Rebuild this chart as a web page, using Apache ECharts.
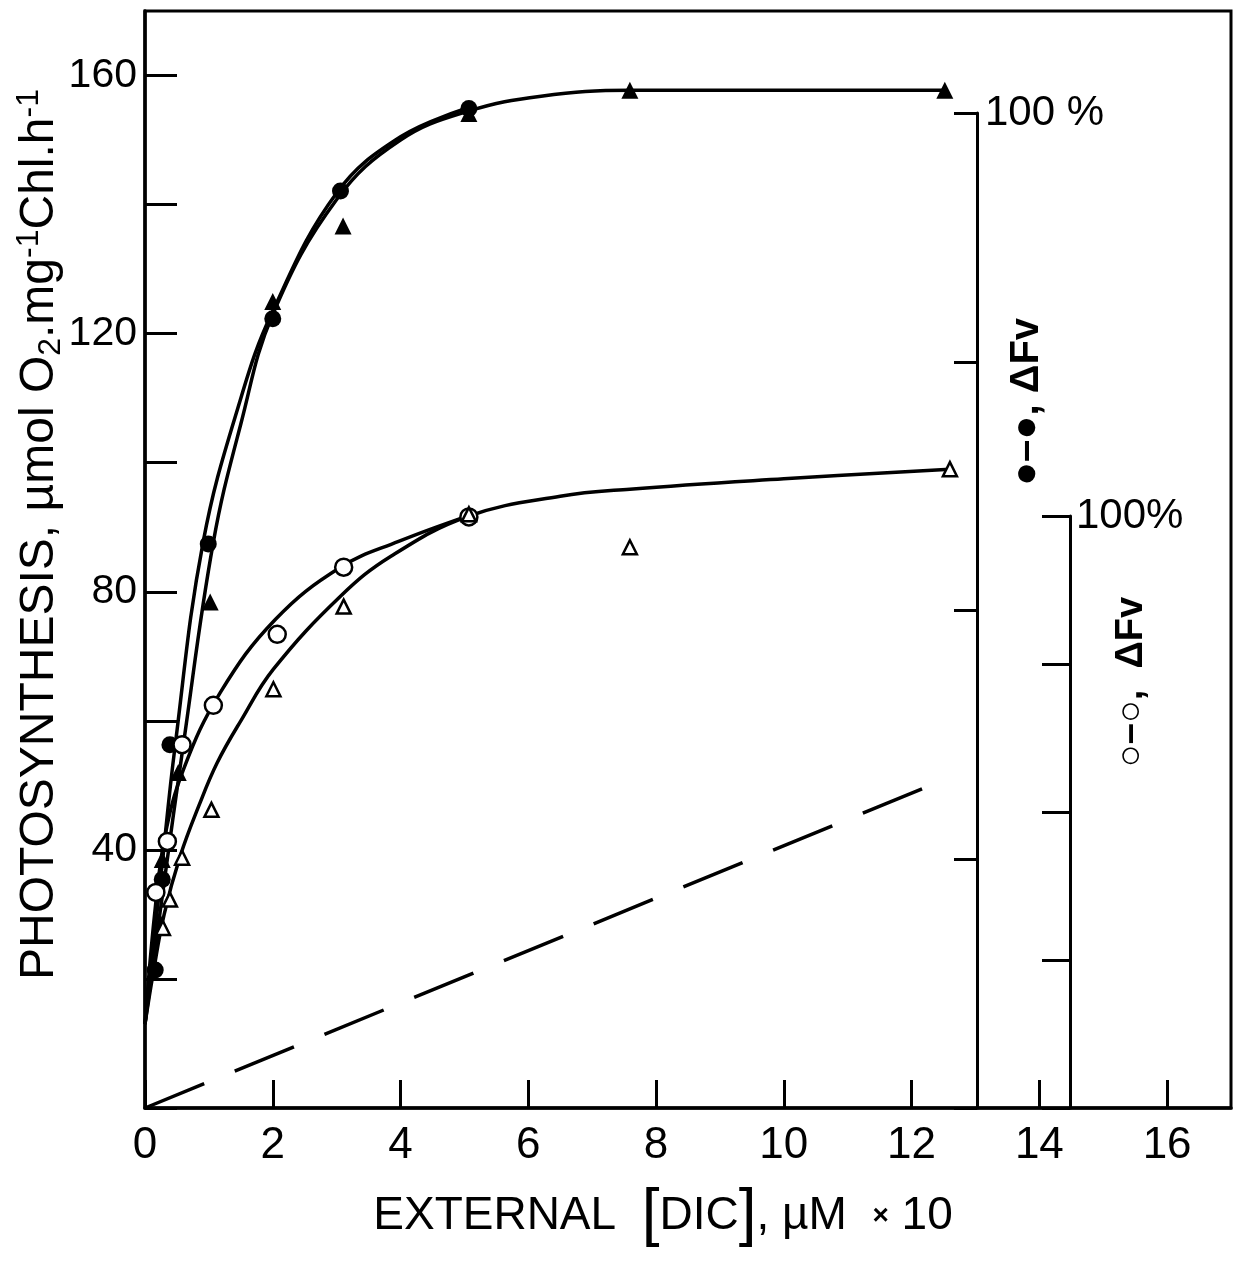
<!DOCTYPE html>
<html>
<head>
<meta charset="utf-8">
<script src="https://cdn.jsdelivr.net/npm/echarts@6/dist/echarts.min.js"></script>
<style>
html,body{margin:0;padding:0;background:#fff;}
#c{width:1241px;height:1262px;}
</style>
</head>
<body>
<div id="c"></div>
<script>
// ---- data ----
// measured points
const filledCircles = [[0.16,21.4],[0.27,35.4],[0.39,56.3],[0.99,87.4],[2.0,122.3],[3.06,142.1],[5.07,154.9]];
const filledTriangles = [[0.25,28.5],[0.27,38.5],[0.52,52.0],[1.02,78.4],[2.0,125.0],[3.1,136.7],[5.07,154.1],[7.59,157.7],[12.52,157.7]];
const openCircles = [[0.17,33.4],[0.35,41.3],[0.58,56.3],[1.07,62.4],[2.07,73.4],[3.11,83.8],[5.07,91.6]];
const openTriangles = [[0.28,27.9],[0.39,32.3],[0.58,38.8],[1.04,46.2],[2.01,64.9],[3.11,77.7],[5.07,92.0],[7.59,86.9],[12.6,99.0]];
// fitted curves
const curveFilledCircle = [[0,13],[0.25,36],[0.47,56],[0.91,87.7],[1.5,110],[2,123.5],[3,141.8],[4,150.5],[5.07,155]];
const curveFilledTriangle = [[0,13],[0.3,35],[0.6,56.3],[1.07,87.7],[1.5,106],[2,123],[3,140.8],[4,150],[5.07,154.5],[6.2,156.8],[7.59,157.7],[12.52,157.7]];
const curveOpenCircle = [[0,13],[0.15,30],[0.31,42],[0.6,52.4],[1.18,64.4],[2.04,75.7],[3.06,83.8],[3.97,87.8],[5.07,91.8]];
const curveOpenTriangle = [[0,13],[0.13,21],[0.3,30],[0.55,39],[0.85,47],[1.13,53.5],[1.5,60],[2.01,68],[3.06,79.3],[3.85,85.5],[5.06,91.7],[6.5,94.8],[7.59,95.9],[10,97.5],[12.6,99]];
const dashedLine = [[0,0],[12.3,50]];
// axis settings
const xMin = 0, xMax = 17, xStep = 2, xLabelMax = 16;
const yMin = 0, yMax = 170, yStep = 20;
const yLabels = [40, 80, 120, 160];
const rightAxisTicks = 25;

const FONT = "'Liberation Sans', Arial, sans-serif";
const chart = echarts.init(document.getElementById('c'), null, {renderer:'canvas'});

function curve(data){
  return {type:'line', data:data, showSymbol:false, smooth:0.4,
    lineStyle:{color:'#000', width:3.5}, z:2, silent:true, animation:false};
}
function markers(data, symbol, filled, size){
  return {type:'scatter', data:data, symbol:symbol, symbolSize:size,
    itemStyle: filled ? {color:'#000', opacity:1} : {color:'#fff', borderColor:'#000', borderWidth:2.5, opacity:1},
    z:5, animation:false};
}

const option = {
  backgroundColor:'#fff',
  animation:false,
  grid:[
    {left:145, right:10, top:11, bottom:154, show:true, borderColor:'#000', borderWidth:3, backgroundColor:'transparent'},
    {left:977, top:113, bottom:154, width:80},
    {left:1070, top:516, bottom:154, width:80}
  ],
  xAxis:[
    {gridIndex:0, type:'value', min:xMin, max:xMax, interval:xStep,
     name:'{a|EXTERNAL  }{b|[}{a|DIC}{b|]}{a|, µM  }{c|×}{a| 10}',
     nameLocation:'middle', nameGap:76,
     nameTextStyle:{padding:[0,50,0,0], rich:{
       a:{fontFamily:FONT, fontSize:46, color:'#000'},
       b:{fontFamily:FONT, fontSize:64, color:'#000'},
       c:{fontFamily:FONT, fontSize:28, fontWeight:'bold', color:'#000'}}},
     axisLine:{lineStyle:{color:'#000', width:3.5}},
     axisTick:{inside:true, length:28, lineStyle:{color:'#000', width:3}},
     axisLabel:{fontFamily:FONT, fontSize:44, color:'#000', margin:16, showMaxLabel:false,
       formatter:v => (v % xStep === 0 && v <= xLabelMax) ? String(v) : ''},
     splitLine:{show:false}},
    {gridIndex:1, type:'value', min:0, max:1, show:false},
    {gridIndex:2, type:'value', min:0, max:1, show:false}
  ],
  yAxis:[
    {gridIndex:0, type:'value', min:yMin, max:yMax, interval:yStep,
     name:'{a|PHOTOSYNTHESIS, µmol O}{s|2}{a|.mg}{p|-1}{a|Chl.h}{p|-1}',
     nameLocation:'middle', nameGap:78, nameRotate:90, nameMoveOverlap:false,
     nameTextStyle:{padding:[0,0,0,50], rich:{
       a:{fontFamily:FONT, fontSize:48, color:'#000', lineHeight:54, verticalAlign:'middle'},
       s:{fontFamily:FONT, fontSize:32, color:'#000', verticalAlign:'bottom', lineHeight:54, padding:[14,0,0,0]},
       p:{fontFamily:FONT, fontSize:32, color:'#000', verticalAlign:'top', lineHeight:54}}},
     axisLine:{lineStyle:{color:'#000', width:3.5}},
     axisTick:{inside:true, length:32, lineStyle:{color:'#000', width:3}},
     axisLabel:{fontFamily:FONT, fontSize:41, color:'#000', margin:8, showMaxLabel:false,
       formatter:v => yLabels.indexOf(v) >= 0 ? String(v) : ''},
     splitLine:{show:false}},
    {gridIndex:1, type:'value', min:0, max:100, interval:rightAxisTicks, position:'left',
     axisLine:{show:true, lineStyle:{color:'#000', width:3}},
     axisTick:{show:true, inside:false, length:23, lineStyle:{color:'#000', width:3}},
     axisLabel:{inside:true, margin:8, fontFamily:FONT, fontSize:42, color:'#000',
       formatter:v => v === 100 ? '100 %' : ''},
     splitLine:{show:false}},
    {gridIndex:2, type:'value', min:0, max:100, interval:rightAxisTicks, position:'left',
     axisLine:{show:true, lineStyle:{color:'#000', width:3}},
     axisTick:{show:true, inside:false, length:28, lineStyle:{color:'#000', width:3}},
     axisLabel:{inside:true, margin:6, fontFamily:FONT, fontSize:42, color:'#000',
       formatter:v => v === 100 ? '100%' : ''},
     splitLine:{show:false}}
  ],
  graphic:[
    {type:'text', x:1027, y:402, rotation:Math.PI/2,
     style:{text:'●–●, ΔFv', fill:'#000', font:'bold 40px ' + FONT, align:'center', verticalAlign:'middle'}},
    {type:'text', x:1132, y:682, rotation:Math.PI/2,
     style:{text:'○–○,  ΔFv', fill:'#000', font:'bold 38px ' + FONT, align:'center', verticalAlign:'middle'}}
  ],
  series:[
    {type:'line', data:dashedLine, showSymbol:false, lineStyle:{color:'#000', width:3.5, type:[64,33]}, z:1, animation:false},
    curve(curveFilledCircle),
    curve(curveFilledTriangle),
    curve(curveOpenCircle),
    curve(curveOpenTriangle),
    markers(filledCircles, 'circle', true, 17),
    markers(filledTriangles, 'triangle', true, 17),
    markers(openCircles, 'circle', false, 17),
    markers(openTriangles, 'triangle', false, 14)
  ]
};
chart.setOption(option);
</script>
</body>
</html>
